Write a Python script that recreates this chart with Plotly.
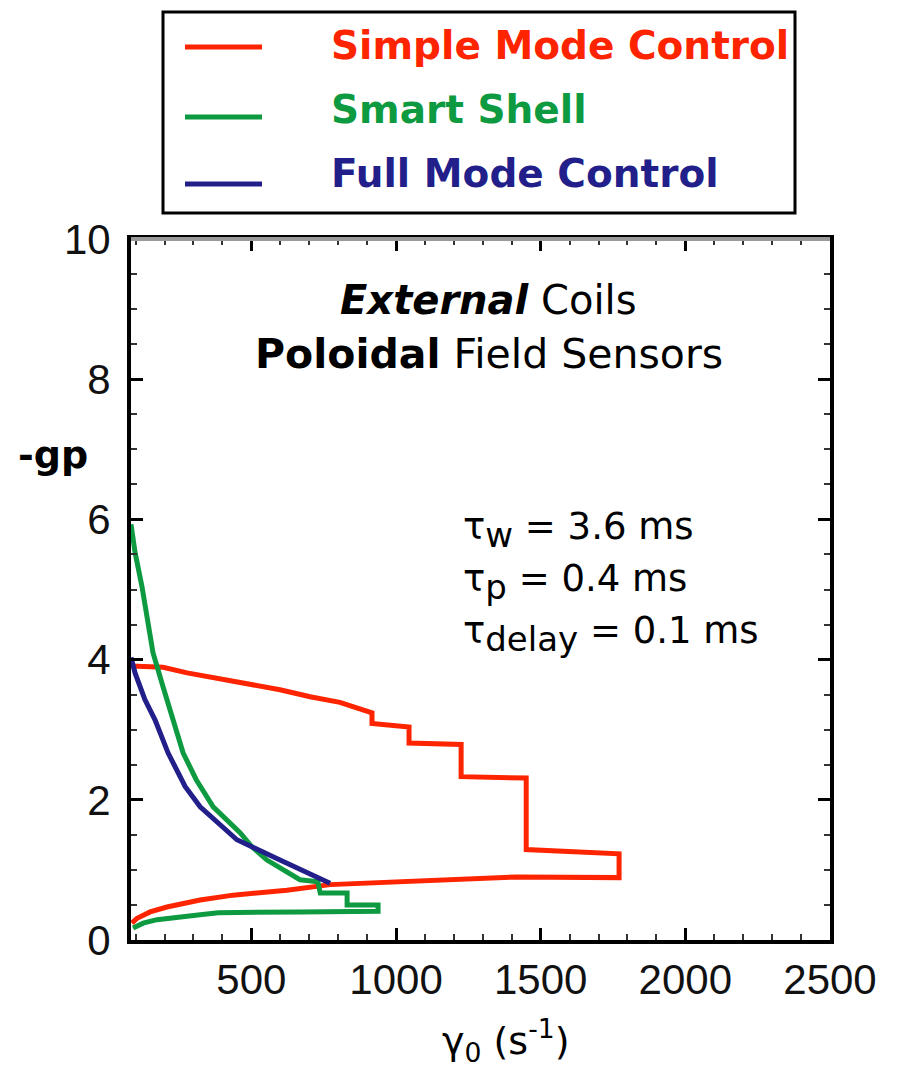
import plotly.graph_objects as go

# ---- data ----
simple_x = [84, 195, 278, 381, 495, 599, 703, 806, 917, 917, 1045, 1045, 1225, 1225, 1450, 1450, 1771, 1771,
            1418, 1211, 1003, 772, 623, 437, 323, 208, 150, 105, 87]
simple_y = [3.91, 3.89, 3.81, 3.73, 3.64, 3.57, 3.47, 3.39, 3.24, 3.09, 3.04, 2.81, 2.79, 2.33, 2.31, 1.29, 1.23, 0.89,
            0.90, 0.86, 0.83, 0.79, 0.71, 0.64, 0.57, 0.47, 0.40, 0.31, 0.24]

shell_x = [84, 98, 122, 139, 160, 195, 229, 264, 309, 368, 461, 502, 554, 623, 668, 730, 738, 831, 831, 938, 938,
           668, 385, 323, 174, 126, 91]
shell_y = [5.93, 5.53, 5.04, 4.57, 4.10, 3.61, 3.14, 2.67, 2.29, 1.90, 1.53, 1.33, 1.14, 0.96, 0.86, 0.83, 0.67, 0.67,
           0.50, 0.50, 0.41, 0.40, 0.39, 0.36, 0.29, 0.24, 0.17]

full_x = [84, 98, 132, 167, 212, 271, 323, 419, 450, 599, 693, 772]
full_y = [4.03, 3.81, 3.43, 3.14, 2.67, 2.19, 1.90, 1.53, 1.43, 1.14, 0.96, 0.81]

series_names = ["Simple Mode Control", "Smart Shell", "Full Mode Control"]
x_ticks = [500, 1000, 1500, 2000, 2500]
y_ticks = [0, 2, 4, 6, 8, 10]

RED = "#ff2400"
GREEN = "#0e9a40"
BLUE = "#221f8a"
colors = [RED, GREEN, BLUE]

fig = go.Figure()
for (xs, ys), nm, c in zip([(simple_x, simple_y), (shell_x, shell_y), (full_x, full_y)], series_names, colors):
    fig.add_trace(go.Scatter(x=xs, y=ys, mode="lines", line=dict(color=c, width=5), name=nm, showlegend=False))

L, R, T, B = 131, 830, 239, 940
W, H = 897, 1074

def px(xp):
    return (xp - L) / (R - L)

def py(yp):
    return (B - yp) / (B - T)

axis_common = dict(
    showline=True, linecolor="black", linewidth=4, mirror="ticks",
    ticks="inside", tickcolor="black", tickwidth=3, ticklen=12,
    showgrid=False, zeroline=False,
    tickfont=dict(family="Liberation Sans", size=42, color="#111"),
)

fig.update_xaxes(range=[84, 2500], tickvals=x_ticks, ticklabelstandoff=0,
                 minor=dict(dtick=100, tick0=0, ticks="inside", ticklen=6, tickwidth=2, tickcolor="#333"),
                 **axis_common)
fig.update_yaxes(range=[0, 10], tickvals=y_ticks, ticklabelstandoff=8,
                 minor=dict(dtick=0.5, tick0=0, ticks="inside", ticklen=6, tickwidth=2, tickcolor="#333"),
                 **axis_common)

ann = []
shapes = []
# legend drawn by hand (box, sample lines, coloured labels)
shapes.append(dict(type="rect", xref="paper", yref="paper", x0=px(163), x1=px(795), y0=py(213), y1=py(12),
                   line=dict(color="black", width=3), fillcolor="white", layer="above"))
leg_line_y = [47, 117, 184]
leg_text_y = [45, 110, 173]
for nm, c, ly, ty in zip(series_names, colors, leg_line_y, leg_text_y):
    shapes.append(dict(type="line", xref="paper", yref="paper", x0=px(185), x1=px(262), y0=py(ly), y1=py(ly),
                       line=dict(color=c, width=5), layer="above"))
    ann.append(dict(text=f"<b>{nm}</b>", x=px(329), y=py(ty), xref="paper", yref="paper", showarrow=False,
                    xanchor="left", yanchor="middle",
                    font=dict(family="DejaVu Sans", size=39, color=c)))

ann.append(dict(text="<b><i>External</i></b> Coils", x=px(488), y=py(300), xref="paper", yref="paper",
                showarrow=False, xanchor="center", yanchor="middle",
                font=dict(family="DejaVu Sans", size=40, color="black")))
ann.append(dict(text="<b>Poloidal</b> Field Sensors", x=px(489), y=py(354), xref="paper", yref="paper",
                showarrow=False, xanchor="center", yanchor="middle",
                font=dict(family="DejaVu Sans", size=41, color="black")))
tau_lines = [("τ<sub><span style='font-size:34px'>w</span></sub> = 3.6 ms", 530),
             ("τ<sub><span style='font-size:34px'>p</span></sub> = 0.4 ms", 582),
             ("τ<sub><span style='font-size:34px'>delay</span></sub> = 0.1 ms", 634)]
for t, yy in tau_lines:
    ann.append(dict(text=t, x=px(461), y=py(yy), xref="paper", yref="paper", showarrow=False,
                    xanchor="left", yanchor="middle",
                    font=dict(family="DejaVu Sans", size=37, color="black")))
ann.append(dict(text="<b>-gp</b>", x=px(53), y=py(455), xref="paper", yref="paper", showarrow=False,
                xanchor="center", yanchor="middle",
                font=dict(family="DejaVu Sans", size=38, color="black")))
ann.append(dict(text="γ<sub>0</sub> (s<sup>-1</sup>)", x=px(505), y=py(1040), xref="paper", yref="paper",
                showarrow=False, xanchor="center", yanchor="middle",
                font=dict(family="DejaVu Sans", size=38, color="black")))

shapes.append(dict(type="line", xref="paper", yref="paper", x0=0, x1=1, y0=1, y1=1,
                   line=dict(color="#9a9a9a", width=4), layer="above"))

fig.update_layout(
    width=W, height=H,
    margin=dict(l=L, r=W - R, t=T, b=H - B, pad=0),
    paper_bgcolor="white", plot_bgcolor="white",
    annotations=ann,
    shapes=shapes,
    showlegend=False,
)

fig.write_html("out.html")
